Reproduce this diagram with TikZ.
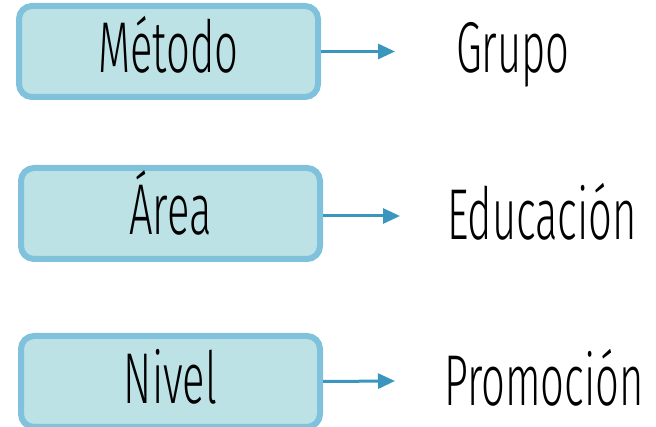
\documentclass[tikz,border=0pt]{standalone}
\usepackage{fontspec}
\setmainfont{Fira Sans Light}[FakeStretch=0.58]
\usetikzlibrary{arrows.meta}
\definecolor{boxfill}{HTML}{BCE2E6}
\definecolor{boxline}{HTML}{80C2DC}
\definecolor{arrowblue}{HTML}{3A96BF}
\tikzset{
  box/.style={draw=boxline, fill=boxfill, line width=6pt, rounded corners=13pt,
    minimum width=299pt, minimum height=91pt, inner sep=0pt,
    text height=50pt, text depth=7pt, font=\fontsize{72}{80}\selectfont},
  word/.style={anchor=base, inner sep=0pt, font=\fontsize{72}{80}\selectfont},
  link/.style={draw=arrowblue, line width=3pt, -{Triangle[length=17pt,width=15pt]}}
}
\begin{document}
\begin{tikzpicture}[x=1pt,y=-1pt]
  \useasboundingbox (0,0) rectangle (656,427);
  \draw
    (168.5,51.5) node[box] (metodo){Método}
    (170.5,213.5) node[box] (area){Área}
    (170.5,381.5) node[box] (nivel){Nivel};
  \draw
    (513,73) node[word] (grupo){Grupo}
    (542,240) node[word] (educacion){Educación}
    (544,406) node[word] (promocion){Promoción};
  \coordinate (g) at (395,51.5);
  \coordinate (e) at (400,216);
  \coordinate (p) at (395,381);
  \begin{scope}[link]
    \draw (metodo.east) -- (g);
    \draw (area.east |- e) -- (e);
    \draw (nivel.east) -- (p);
  \end{scope}
\end{tikzpicture}
\end{document}
